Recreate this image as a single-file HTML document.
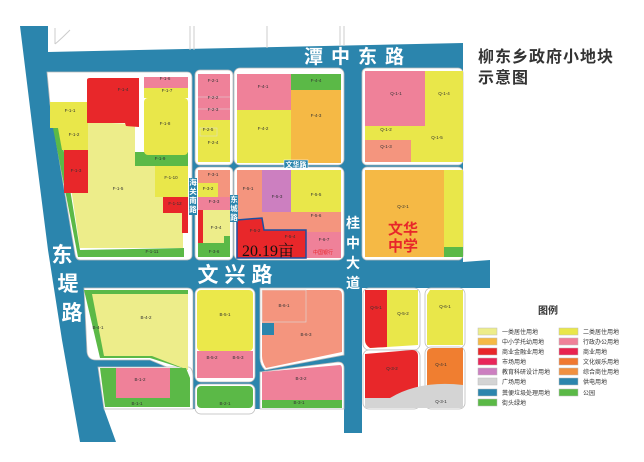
<!DOCTYPE html>
<html><head><meta charset="utf-8"><style>
html,body{margin:0;padding:0;background:#fff;width:644px;height:462px;overflow:hidden}
svg{display:block}
.l{font-family:"Liberation Sans",sans-serif;font-size:4.5px;fill:#333;text-anchor:middle}
.r{font-family:"Liberation Sans","Noto Sans CJK SC",sans-serif;fill:#fff;font-weight:bold;text-anchor:middle}
.lg{font-family:"Liberation Sans","Noto Sans CJK SC",sans-serif;font-size:6px;fill:#333}
</style></head><body>
<svg width="644" height="462" viewBox="0 0 644 462" xmlns="http://www.w3.org/2000/svg">
<polygon fill="#2b85ad" points="20,26 48,26 48,52 463,43 463,262 490,260 490,288 362,288 362,433 344,433 344,409 104,409 116,442 80,442 62,340 48,250 34,140"/>
<g stroke="#ccc" fill="none" stroke-width="1">
<path d="M55,28 L55,44 M70,30 Q60,40 55,44 M190,26 L190,50 M194,26 L194,50 M267,26 L267,48 M340,26 L340,46 M344,26 L344,46"/>
</g>
<g fill="#fff" stroke="#bbb" stroke-width="0.8">
<path d="M47,72 H187 Q192,72 192,78 V255 Q192,260 186,260 H80 Q76,260 75,254 L50,104 Z"/>
<rect x="195" y="70" width="38" height="95" rx="5"/>
<rect x="195" y="167" width="38" height="93" rx="5"/>
<rect x="234" y="68" width="110" height="97" rx="6"/>
<rect x="234" y="167" width="110" height="93" rx="6"/>
<rect x="362" y="68" width="101" height="97" rx="5"/>
<rect x="362" y="167" width="101" height="93" rx="5"/>
<path d="M84,288 H187 Q193,288 193,294 V378 L150,360 H96 Q88,360 87,352 Z"/>
<path d="M98,367 H188 Q193,367 193,378 V409 H104 Z"/>
<rect x="195" y="288" width="60" height="94" rx="6"/>
<rect x="195" y="384" width="60" height="30" rx="6"/>
<path d="M260,288 H338 Q344,288 344,294 V355 L265,370 Q260,365 260,358 Z"/>
<path d="M260,372 L338,362 Q344,362 344,368 V409 H260 Z"/>
<rect x="363" y="288" width="57" height="62" rx="6"/>
<rect x="425" y="288" width="40" height="60" rx="6"/>
<rect x="363" y="350" width="57" height="59" rx="6"/>
<rect x="425" y="347" width="40" height="62" rx="6"/>
</g>
<polygon fill="#5bb947" points="53,128 60,128 80,250 80,250 184,248 184,257 78,257"/>
<polygon fill="#eded8a" points="62,128 88,128 88,122 135,124 135,166 183,166 183,248 80,248"/>
<rect x="50" y="102" width="38" height="26" fill="#e9e74a"/>
<polygon fill="#e9e74a" points="58,128 88,128 88,150 62,150"/>
<rect x="64" y="150" width="24" height="43" fill="#e8272a"/>
<path d="M87,80 Q87,78 90,78 H139 V127 L126,126 L125,123 H87 Z" fill="#e8272a"/>
<rect x="135" y="152" width="53" height="14" fill="#5bb947"/>
<rect x="155" y="166" width="33" height="31" fill="#e9e74a"/>
<polygon fill="#e8272a" points="163,197 188,197 188,233 182,233 182,213 163,213"/>
<rect x="144" y="77" width="44" height="11" fill="#ef8199"/>
<rect x="144" y="88" width="44" height="10" fill="#e9e74a"/>
<rect x="144" y="98" width="44" height="57" fill="#e9e74a" rx="4"/>
<rect x="198" y="74" width="32" height="46" fill="#ef8199"/>
<rect x="198" y="120" width="32" height="42" fill="#e9e74a"/>
<g stroke="#ddd" stroke-width="0.5"><line x1="198" y1="97" x2="230" y2="97"/><line x1="198" y1="109" x2="230" y2="109"/><rect x="200" y="128" width="17" height="8" fill="none"/></g>
<rect x="198" y="170" width="32" height="13" fill="#f4957e"/>
<rect x="198" y="183" width="20" height="14" fill="#e9e74a"/>
<rect x="218" y="183" width="12" height="14" fill="#f4957e"/>
<rect x="198" y="197" width="32" height="13" fill="#ef8199"/>
<rect x="198" y="210" width="5" height="33" fill="#e8272a"/>
<rect x="203" y="210" width="27" height="33" fill="#eded8a"/>
<polygon fill="#5bb947" points="198,243 224,243 224,236 230,236 230,257 198,257"/>
<rect x="237" y="74" width="54" height="36" fill="#ef8199"/>
<rect x="237" y="110" width="54" height="53" fill="#e9e74a"/>
<rect x="291" y="74" width="50" height="16" fill="#5bb947"/>
<rect x="291" y="90" width="50" height="73" fill="#f5b945"/>
<rect x="237" y="170" width="26" height="55" fill="#f4957e"/>
<rect x="262" y="170" width="29" height="45" fill="#cc7fc0"/>
<rect x="291" y="170" width="50" height="42" fill="#e9e74a"/>
<rect x="262" y="212" width="79" height="20" fill="#f4957e"/>
<rect x="306" y="232" width="35" height="26" fill="#ef8199"/>
<polygon fill="#e8272a" stroke="#1c4fa0" stroke-width="1.5" points="237,220 262,218 264,230 306,230 306,258 237,258"/>
<rect x="365" y="71" width="60" height="55" fill="#ef8199"/>
<rect x="425" y="71" width="38" height="55" fill="#e9e74a"/>
<rect x="365" y="126" width="46" height="14" fill="#e9e74a"/>
<rect x="365" y="140" width="46" height="22" fill="#f4957e"/>
<rect x="411" y="126" width="52" height="36" fill="#e9e74a"/>
<rect x="365" y="170" width="79" height="87" fill="#f5b945"/>
<rect x="444" y="170" width="19" height="77" fill="#e9e74a"/>
<rect x="444" y="247" width="19" height="10" fill="#5bb947"/>
<path d="M84,290 H188 V370 L150,358 H100 Z" fill="#5bb947"/>
<path d="M92,294 H188 V370 L152,356 H104 Z" fill="#eded8a"/>
<path d="M100,368 H186 L190,378 V407 H105 Z" fill="#5bb947"/>
<rect x="116" y="368" width="54" height="30" fill="#ef8199"/>
<rect x="197" y="290" width="56" height="61" fill="#ebe84a" rx="4"/>
<rect x="197" y="351" width="56" height="27" fill="#ef8199"/>
<rect x="197" y="386" width="56" height="22" fill="#5bb947" rx="4"/>
<path d="M262,290 H338 Q342,290 342,296 V352 L266,368 Q262,362 262,356 Z" fill="#f4957e"/>
<rect x="262" y="290" width="44" height="32" fill="none" stroke="#ddd" stroke-width="0.6"/>
<rect x="262" y="323" width="12" height="12" fill="#2b85ad"/>
<path d="M262,372 L340,365 Q342,365 342,370 V400 H262 Z" fill="#ef8199"/>
<rect x="262" y="400" width="80" height="8" fill="#5bb947"/>
<path d="M365,290 H418 V345 L370,348 Q365,345 365,340 Z" fill="#e9e74a"/>
<path d="M365,290 H387 V347 L370,348 Q365,345 365,340 Z" fill="#e8272a"/>
<path d="M430,290 H463 V345 H427 V295 Z" fill="#e9e74a"/>
<path d="M365,354 L412,350 Q418,350 418,356 V400 H365 Z" fill="#e8272a"/>
<path d="M427,353 Q427,348 433,348 H463 V395 H427 Z" fill="#f07e30"/>
<path d="M365,408 V398 L390,398 Q420,380 463,385 V408 Z" fill="#d4d4d4"/>
<g class="l">
<text x="70" y="112">F-1-1</text><text x="74" y="136">F-1-2</text><text x="76" y="172">F-1-3</text>
<text x="123" y="91">F-1-4</text><text x="118" y="190">F-1-5</text><text x="165" y="80">F-1-6</text>
<text x="167" y="92">F-1-7</text><text x="165" y="125">F-1-8</text><text x="160" y="160">F-1-9</text>
<text x="171" y="179">F-1-10</text><text x="175" y="205">F-1-12</text><text x="152" y="253">F-1-11</text>
<text x="213" y="82">F-2-1</text><text x="213" y="99">F-2-2</text><text x="213" y="111">F-2-3</text>
<text x="208" y="131">F-2-5</text><text x="213" y="144">F-2-4</text>
<text x="213" y="176">F-3-1</text><text x="208" y="190">F-3-2</text><text x="214" y="203">F-3-3</text>
<text x="216" y="229">F-3-4</text><text x="214" y="253">F-3-6</text>
<text x="263" y="88">F-4-1</text><text x="263" y="130">F-4-2</text><text x="316" y="82">F-4-4</text><text x="316" y="117">F-4-3</text>
<text x="248" y="190">F-5-1</text><text x="277" y="198">F-5-3</text><text x="316" y="196">F-5-5</text>
<text x="316" y="217">F-5-6</text><text x="255" y="232">F-5-2</text><text x="290" y="238">F-5-4</text><text x="324" y="241">F-6-7</text>
<text x="396" y="95">Q-1-1</text><text x="444" y="95">Q-1-4</text><text x="386" y="131">Q-1-2</text>
<text x="386" y="148">Q-1-3</text><text x="437" y="139">Q-1-5</text><text x="403" y="208">Q-2-1</text>
<text x="146" y="319">B-4-2</text><text x="98" y="329">B-4-1</text><text x="140" y="381">B-1-2</text><text x="137" y="405">B-1-1</text>
<text x="225" y="316">B-5-1</text><text x="212" y="359">B-5-2</text><text x="238" y="359">B-5-3</text><text x="225" y="405">B-2-1</text>
<text x="284" y="307">B-6-1</text><text x="306" y="336">B-6-3</text><text x="301" y="380">B-3-2</text><text x="299" y="404">B-3-1</text>
<text x="376" y="309">Q-5-1</text><text x="403" y="315">Q-5-2</text><text x="445" y="308">Q-6-1</text>
<text x="392" y="370">Q-3-2</text><text x="441" y="366">Q-4-1</text><text x="441" y="403">Q-3-1</text>
</g>
<text x="323" y="254" font-family="Liberation Sans,Noto Sans CJK SC,sans-serif" font-size="5" fill="#e8272a" text-anchor="middle">中国银行</text>
<text x="268" y="256" font-family="Liberation Serif,Noto Serif CJK SC,serif" font-size="16" fill="#111" text-anchor="middle">20.19亩</text>
<text x="403" y="234" font-family="Liberation Sans,Noto Sans CJK SC,sans-serif" font-size="15" font-weight="bold" fill="#e8272a" text-anchor="middle">文华</text>
<text x="403" y="251" font-family="Liberation Sans,Noto Sans CJK SC,sans-serif" font-size="15" font-weight="bold" fill="#e8272a" text-anchor="middle">中学</text>
<text class="r" x="358" y="63" font-size="19" letter-spacing="8">潭中东路</text>
<text class="r" x="238" y="282" font-size="21" letter-spacing="6">文兴路</text>
<g class="r" font-size="21"><text x="62" y="262">东</text><text x="68" y="291">堤</text><text x="72" y="320">路</text></g>
<g class="r" font-size="14"><text x="353" y="228">桂</text><text x="353" y="248">中</text><text x="353" y="268">大</text><text x="353" y="288">道</text></g>
<rect x="284" y="160" width="24" height="8" fill="#2b85ad" stroke="#fff" stroke-width="0.5"/>
<text class="r" x="296" y="167" font-size="7">文华路</text>
<rect x="189" y="178" width="8" height="37" fill="#2b85ad"/>
<g class="r" font-size="7.5"><text x="193" y="185">海</text><text x="193" y="194">关</text><text x="193" y="203">南</text><text x="193" y="212">路</text></g>
<rect x="230" y="195" width="8" height="27" fill="#2b85ad"/>
<g class="r" font-size="7.5"><text x="234" y="202">东</text><text x="234" y="211">城</text><text x="234" y="220">路</text></g>
<g font-family="Liberation Sans,Noto Sans CJK SC,sans-serif" font-size="16" font-weight="bold" fill="#333">
<text x="478" y="62" letter-spacing="1">柳东乡政府小地块</text>
<text x="478" y="83" letter-spacing="1">示意图</text>
</g>
<text x="548" y="314" font-family="Liberation Sans,Noto Sans CJK SC,sans-serif" font-size="10" font-weight="bold" fill="#333" text-anchor="middle">图例</text>
<g stroke="#bbb" stroke-width="0.5">
<rect x="478" y="328" width="19" height="7" fill="#eded8a"/><rect x="559" y="328" width="19" height="7" fill="#e9e74a"/>
<rect x="478" y="338" width="19" height="7" fill="#f5b945"/><rect x="559" y="338" width="19" height="7" fill="#ef8199"/>
<rect x="478" y="348" width="19" height="7" fill="#e8272a"/><rect x="559" y="348" width="19" height="7" fill="#e8234f"/>
<rect x="478" y="358" width="19" height="7" fill="#e8265a"/><rect x="559" y="358" width="19" height="7" fill="#f07830"/>
<rect x="478" y="368" width="19" height="7" fill="#cc7fc0"/><rect x="559" y="368" width="19" height="7" fill="#f09040"/>
<rect x="478" y="378" width="19" height="7" fill="#d4d4d4"/><rect x="559" y="378" width="19" height="7" fill="#2b85ad"/>
<rect x="478" y="389" width="19" height="7" fill="#2b85ad"/><rect x="559" y="389" width="19" height="7" fill="#5bb947"/>
<rect x="478" y="399" width="19" height="7" fill="#5bb947"/>
</g>
<g class="lg">
<text x="502" y="334">一类居住用地</text><text x="583" y="334">二类居住用地</text>
<text x="502" y="344">中小学托幼用地</text><text x="583" y="344">行政办公用地</text>
<text x="502" y="354">商业金融业用地</text><text x="583" y="354">商业用地</text>
<text x="502" y="364">市场用地</text><text x="583" y="364">文化娱乐用地</text>
<text x="502" y="374">教育科研设计用地</text><text x="583" y="374">综合商住用地</text>
<text x="502" y="384">广场用地</text><text x="583" y="384">供电用地</text>
<text x="502" y="395">粪便垃圾处理用地</text><text x="583" y="395">公园</text>
<text x="502" y="405">街头绿地</text>
</g>
</svg>
</body></html>
